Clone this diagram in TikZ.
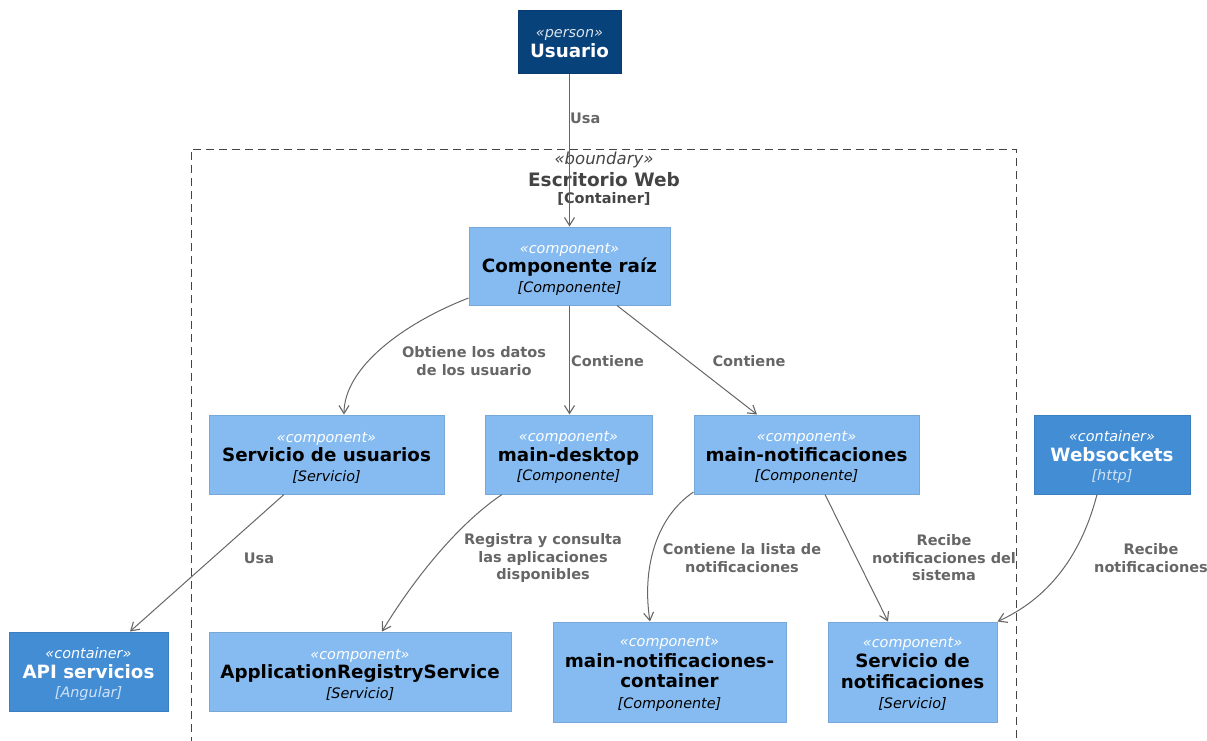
\documentclass[tikz,border=0pt]{standalone}
\usepackage{fontspec}
\setmainfont{DejaVu Sans}
\usetikzlibrary{arrows.meta}

\definecolor{personfill}{HTML}{08427B}
\definecolor{personline}{HTML}{073B6F}
\definecolor{compfill}{HTML}{85BBF0}
\definecolor{compline}{HTML}{78A8D8}
\definecolor{contfill}{HTML}{438DD5}
\definecolor{contline}{HTML}{3C7FC0}
\definecolor{relcol}{HTML}{666666}
\definecolor{bndcol}{HTML}{444444}

\newcommand{\stereo}[1]{{\fontsize{14.4}{19.5}\selectfont\itshape «#1»}}
\newcommand{\ttl}[1]{{\fontsize{18.3}{19.5}\selectfont\bfseries #1}}
\newcommand{\techn}[1]{{\fontsize{14.4}{19.5}\selectfont\itshape [#1]}}

\tikzset{
  box/.style={rectangle, inner sep=0pt, line width=1pt},
  personbox/.style={box, fill=personfill, draw=personline},
  compbox/.style={box, fill=compfill, draw=compline},
  contbox/.style={box, fill=contfill, draw=contline},
  boxtext/.style={align=center, inner sep=0pt, yshift=-3pt,
    font=\fontsize{14.4}{19.5}\selectfont},
  darktext/.style={boxtext, text=black},
  lighttext/.style={boxtext, text=white},
  rel/.style={draw=relcol, line width=1pt, -{Straight Barb[length=8pt,width=10pt,line width=1.1pt]}},
  rellabel/.style={text=relcol, align=center, inner sep=0pt,
    font=\fontsize{14.5}{17.5}\selectfont\bfseries},
  bndtext/.style={text=bndcol, inner sep=0pt},
}

\begin{document}
\begin{tikzpicture}[x=1pt,y=-1pt]
\useasboundingbox (0,0) rectangle (1207,740);

% container boundary (open at the bottom)
\draw[bndcol, line width=0.9pt, dash pattern=on 8pt off 5pt]
  (191,745) -- (191,149) -- (1016,149) -- (1016,745);
\node[bndtext, font=\fontsize{16.5}{19}\selectfont\itshape] (bndstereo) at (604,160) {«boundary»};
\node[bndtext, font=\fontsize{18.5}{21}\selectfont\bfseries] (bndtitle) at (604,180) {Escritorio Web};
\node[bndtext, font=\fontsize{14.5}{17}\selectfont\bfseries] (bndtech) at (604,199) {[Container]};

% people and containers
\node[personbox, minimum width=103pt, minimum height=63pt,
  label={[lighttext, yshift=1pt]center:{{\color{white!85!personfill}\stereo{person}}\\[1pt]\ttl{Usuario}}}]
  (usr) at (569.5,41.5) {};
\node[contbox, minimum width=156pt, minimum height=79pt,
  label={[lighttext]center:{\stereo{container}\\\ttl{Websockets}\\{\color{white!75!contfill}\techn{http}}}}]
  (ws) at (1112,454.5) {};
\node[contbox, minimum width=159pt, minimum height=79pt,
  label={[lighttext]center:{\stereo{container}\\\ttl{API servicios}\\{\color{white!75!contfill}\techn{Angular}}}}]
  (api) at (88.5,671.5) {};

% components
\node[compbox, minimum width=201pt, minimum height=78pt,
  label={[darktext]center:{{\color{white}\stereo{component}}\\\ttl{Componente raíz}\\\techn{Componente}}}]
  (root) at (569.5,266) {};
\node[compbox, minimum width=235pt, minimum height=79pt,
  label={[darktext]center:{{\color{white}\stereo{component}}\\\ttl{Servicio de usuarios}\\\techn{Servicio}}}]
  (usvc) at (326.5,454.5) {};
\node[compbox, minimum width=167pt, minimum height=79pt,
  label={[darktext]center:{{\color{white}\stereo{component}}\\\ttl{main-desktop}\\\techn{Componente}}}]
  (desk) at (568.5,454.5) {};
\node[compbox, minimum width=225pt, minimum height=79pt,
  label={[darktext]center:{{\color{white}\stereo{component}}\\\ttl{main-notificaciones}\\\techn{Componente}}}]
  (notif) at (806.5,454.5) {};
\node[compbox, minimum width=302pt, minimum height=79pt,
  label={[darktext]center:{{\color{white}\stereo{component}}\\\ttl{ApplicationRegistryService}\\\techn{Servicio}}}]
  (reg) at (360,671.5) {};
\node[compbox, minimum width=233pt, minimum height=100pt,
  label={[darktext, yshift=1pt, font=\fontsize{14.4}{20.5}\selectfont]center:{{\color{white}\stereo{component}}\\\ttl{main-notificaciones-}\\\ttl{container}\\\techn{Componente}}}]
  (ncont) at (669.5,672) {};
\node[compbox, minimum width=169pt, minimum height=100pt,
  label={[darktext, yshift=1pt, font=\fontsize{14.4}{20.5}\selectfont]center:{{\color{white}\stereo{component}}\\\ttl{Servicio de}\\\ttl{notificaciones}\\\techn{Servicio}}}]
  (nsvc) at (912.5,672) {};

% relationships
\draw[rel] (usr.south) -- (root.north);
\node[rellabel, anchor=west] (l1) at (570,118) {Usa};

\draw[rel] (root.west |- 0,298) .. controls (402,324) and (344,368) .. (usvc.north -| 344,0);
\node[rellabel] (l2) at (474,361) {Obtiene los datos\\de los usuario};

\draw[rel] (root.south) -- (desk.north -| root.south);
\node[rellabel, anchor=west] (l3) at (571,361) {Contiene};

\draw[rel] (root.south -| 617,0) -- (notif.north -| 757,0);
\node[rellabel] (l4) at (749,361) {Contiene};

\draw[rel] (usvc.south -| 284,0) -- (api.north -| 130,0);
\node[rellabel] (l5) at (259,558) {Usa};

\draw[rel] (desk.south -| 502,0) .. controls (455,526) and (410,585) .. (reg.north -| 382,0);
\node[rellabel] (l6) at (543,558) {Registra y consulta\\las aplicaciones\\disponibles};

\draw[rel] (notif.west |- 0,492) .. controls (655,518) and (642,570) .. (ncont.north -| 650,0);
\node[rellabel] (l7) at (742,558) {Contiene la lista de\\notificaciones};

\draw[rel] (notif.south -| 825,0) -- (nsvc.north -| 888,0);
\node[rellabel] (l8) at (944,558) {Recibe\\notificaciones del\\sistema};

\draw[rel] (ws.south -| 1097,0) .. controls (1080,560) and (1045,600) .. (nsvc.north east);
\node[rellabel] (l9) at (1151,558) {Recibe\\notificaciones};
\end{tikzpicture}
\end{document}
